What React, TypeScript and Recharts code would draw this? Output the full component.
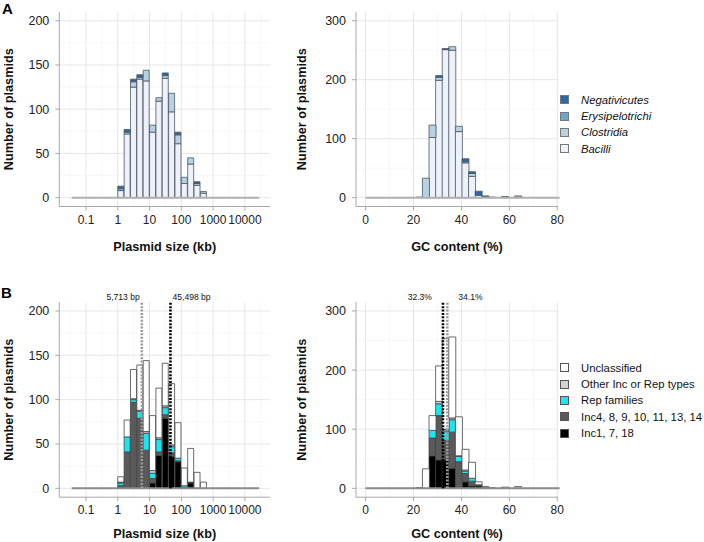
import React from 'react';
import { ComposedChart, Bar, XAxis, YAxis, CartesianGrid, ReferenceLine } from 'recharts';

const FONT = '"Liberation Sans", Arial, Helvetica, sans-serif';

// plasmid size histogram: bin centres in log10(kb), bins 0.2 wide
const sizeBins = [0.1, 0.3, 0.5, 0.7, 0.9, 1.1, 1.3, 1.5, 1.7, 1.9, 2.1, 2.3, 2.5, 2.7];
const sizeEmptyRange: [number, number] = [-1.45, 4.45];
const sizeTicks = [-1, 0, 1, 2, 3, 4];
const sizeTickLabels = ['0.1', '1', '10', '100', '1000', '10000'];
const sizeMinor = [-1.5, -0.5, 0.5, 1.5, 2.5, 3.5, 4.5];

const sizeBacilli = [8, 72, 125, 134, 132, 74, 109, 135, 97, 61, 16, 38, 14, 5];
const sizeClostridia = [2, 2, 6, 2, 12, 8, 4, 3, 21, 10, 7, 7, 2, 2];
const sizeErysipelotrichi = [0, 0, 1, 0, 0, 0, 0, 0, 0, 0, 0, 0, 0, 0];
const sizeNegativicutes = [3, 3, 2, 3, 0, 0, 0, 3, 0, 3, 0, 0, 2, 0];

const sizeInc1 = [1, 0, 0, 1, 0, 6, 37, 79, 36, 30, 1, 6, 0, 0];
const sizeInc4 = [2, 41, 97, 78, 43, 5, 4, 4, 4, 1, 0, 1, 0, 0];
const sizeRep = [3, 17, 3, 8, 19, 6, 14, 8, 7, 3, 2, 0, 0, 0];
const sizeOther = [1, 0, 1, 1, 2, 3, 2, 2, 2, 0, 0, 0, 0, 0];
const sizeUnclassified = [6, 19, 33, 51, 80, 62, 56, 48, 69, 40, 20, 38, 18, 7];

// GC content histogram: bin centres in %
const gcBins = [22.35, 25.1, 27.85, 30.6, 33.35, 36.1, 38.85, 41.6, 44.35, 47.1, 49.85, 52.6, 55.35, 58.1, 60.85, 63.6];
const gcEmptyRange: [number, number] = [0, 81];
const gcTicks = [0, 20, 40, 60, 80];
const gcMinor = [10, 30, 50, 70];

const gcBacilli = [1, 0, 102, 199, 251, 250, 112, 59, 36, 4, 1, 1, 0, 1, 0, 1];
const gcClostridia = [0, 33, 21, 5, 0, 6, 9, 2, 5, 0, 0, 0, 0, 1, 0, 2];
const gcErysipelotrichi = [0, 0, 0, 0, 0, 0, 0, 0, 0, 0, 0, 0, 0, 0, 0, 0];
const gcNegativicutes = [0, 0, 0, 3, 2, 0, 0, 5, 3, 7, 2, 0, 0, 0, 0, 0];

const gcInc1 = [1, 0, 55, 48, 48, 34, 0, 11, 4, 4, 1, 0, 0, 0, 0, 0];
const gcInc4 = [0, 0, 30, 75, 33, 61, 45, 14, 8, 1, 0, 0, 0, 0, 0, 0];
const gcRep = [0, 0, 13, 20, 16, 21, 9, 4, 5, 1, 0, 0, 0, 0, 0, 0];
const gcOther = [0, 0, 0, 4, 3, 3, 1, 2, 0, 0, 0, 0, 0, 0, 0, 0];
const gcUnclassified = [0, 33, 25, 60, 153, 137, 66, 35, 27, 5, 2, 1, 0, 2, 0, 3];

// medians
const sizeMedianBp = [5713, 45498];
const sizeMedianLabels = ['5,713 bp', '45,498 bp'];
const gcMedians = [32.3, 34.1];
const gcMedianLabels = ['32.3%', '34.1%'];

const taxaSeries = [
  { key: 'bac', name: 'Bacilli', fill: '#edf1fa' },
  { key: 'clo', name: 'Clostridia', fill: '#b7d1e1' },
  { key: 'ery', name: 'Erysipelotrichi', fill: '#6aa7d3' },
  { key: 'neg', name: 'Negativicutes', fill: '#2a69aa' },
];
const repSeries = [
  { key: 'inc1', name: 'Inc1, 7, 18', fill: '#000000' },
  { key: 'inc4', name: 'Inc4, 8, 9, 10, 11, 13, 14', fill: '#5a5a5a' },
  { key: 'rep', name: 'Rep families', fill: '#19e6ee' },
  { key: 'other', name: 'Other Inc or Rep types', fill: '#d2d2d2' },
  { key: 'unc', name: 'Unclassified', fill: '#ffffff' },
];

const sizeTaxa = sizeBins.map((x, i) => ({
  x, bac: sizeBacilli[i], clo: sizeClostridia[i], ery: sizeErysipelotrichi[i], neg: sizeNegativicutes[i],
}));
const gcTaxa = gcBins.map((x, i) => ({
  x, bac: gcBacilli[i], clo: gcClostridia[i], ery: gcErysipelotrichi[i], neg: gcNegativicutes[i],
}));
const sizeRepData = sizeBins.map((x, i) => ({
  x, inc1: sizeInc1[i], inc4: sizeInc4[i], rep: sizeRep[i], other: sizeOther[i], unc: sizeUnclassified[i],
}));
const gcRepData = gcBins.map((x, i) => ({
  x, inc1: gcInc1[i], inc4: gcInc4[i], rep: gcRep[i], other: gcOther[i], unc: gcUnclassified[i],
}));

const sizeMedianLines = sizeMedianBp.map((bp, i) => ({
  x: Math.log10(bp / 1000), label: sizeMedianLabels[i], color: i === 0 ? '#9a9a9a' : '#000000', side: i === 0 ? 'left' : 'right',
}));
const gcMedianLines = gcMedians.map((v, i) => ({
  x: v, label: gcMedianLabels[i], color: i === 0 ? '#000000' : '#9a9a9a', side: i === 0 ? 'left' : 'right',
}));

type Series = { key: string; name: string; fill: string };
type Median = { x: number; label: string; color: string; side: string };

function MedianLabel(props: any) {
  const { viewBox, text, side, gap } = props;
  if (!viewBox) return null;
  const left = side === 'left';
  return (
    <text
      x={left ? viewBox.x - gap : viewBox.x + gap}
      y={viewBox.y - 2}
      textAnchor={left ? 'end' : 'start'}
      fontSize={8.6}
      fontFamily={FONT}
      fill="#111"
    >
      {text}
    </text>
  );
}

interface PanelProps {
  left: number;
  top: number;
  width: number;
  height: number;
  data: Record<string, number>[];
  series: Series[];
  xDomain: [number, number];
  xTicks: number[];
  xMinor: number[];
  xFormat: (v: number) => string;
  xTitle: string;
  xTickMargin: number;
  xTitleOffset: number;
  yDomain: [number, number];
  yTicks: number[];
  yMinor: number[];
  yAxisWidth: number;
  yTitleOffset: number;
  marginTop: number;
  marginRight: number;
  emptyRange: [number, number];
  baseStroke: string;
  barStroke: string;
  medians?: Median[];
  labelGap?: number;
}

function HistPanel(p: PanelProps) {
  const axisColor = '#a8a8a8';
  return (
    <div style={{ position: 'absolute', left: p.left, top: p.top }}>
      <ComposedChart
        width={p.width}
        height={p.height}
        data={p.data}
        margin={{ top: p.marginTop, right: p.marginRight, bottom: 0, left: 0 }}
        barCategoryGap={0}
        barGap={0}
      >
        <CartesianGrid stroke="#f2f2f2" strokeWidth={0.6} horizontalValues={p.yMinor} verticalValues={p.xMinor} />
        <CartesianGrid stroke="#e3e3e3" strokeWidth={0.9} horizontalValues={p.yTicks} verticalValues={p.xTicks} />
        <XAxis
          dataKey="x"
          type="number"
          domain={p.xDomain}
          ticks={p.xTicks}
          interval={0}
          allowDataOverflow
          tickFormatter={p.xFormat}
          height={49.5}
          tickSize={4}
          tickMargin={p.xTickMargin}
          stroke={axisColor}
          tick={{ fontSize: 12, fill: '#222', fontFamily: FONT }}
          label={{ value: p.xTitle, position: 'insideBottom', offset: p.xTitleOffset, fontSize: 12.7, fontWeight: 'bold', fill: '#111', fontFamily: FONT }}
        />
        <YAxis
          type="number"
          domain={p.yDomain}
          ticks={p.yTicks}
          interval={0}
          allowDataOverflow
          width={p.yAxisWidth}
          tickSize={4}
          tickMargin={6}
          stroke={axisColor}
          tick={{ fontSize: 12.5, fill: '#222', fontFamily: FONT }}
          label={{
            value: 'Number of plasmids', angle: -90, position: 'insideLeft', offset: p.yTitleOffset,
            style: { textAnchor: 'middle' }, fontSize: 12.7, fontWeight: 'bold', fill: '#111', fontFamily: FONT,
          }}
        />
        <ReferenceLine
          segment={[{ x: p.emptyRange[0], y: 0 }, { x: p.emptyRange[1], y: 0 }]}
          stroke={p.baseStroke}
          strokeWidth={2}
          ifOverflow="visible"
        />
        {p.series.map(s => (
          <Bar
            key={s.key}
            dataKey={s.key}
            name={s.name}
            stackId="h"
            fill={s.fill}
            stroke={p.barStroke}
            strokeWidth={0.8}
            isAnimationActive={false}
          />
        ))}
        {(p.medians || []).map(m => (
          <ReferenceLine
            key={m.label}
            segment={[{ x: m.x, y: 0 }, { x: m.x, y: p.yDomain[1] }]}
            stroke={m.color}
            strokeWidth={2.6}
            strokeDasharray="2 1.4"
            ifOverflow="visible"
            label={<MedianLabel text={m.label} side={m.side} gap={p.labelGap || 2} />}
          />
        ))}
      </ComposedChart>
    </div>
  );
}

function LegendBox({ left, top, items, italic, fontSize, stroke }: {
  left: number; top: number; items: Series[]; italic: boolean; fontSize: number; stroke: string;
}) {
  return (
    <div style={{ position: 'absolute', left, top, fontFamily: FONT }}>
      {items.map(it => (
        <div key={it.key} style={{ display: 'flex', alignItems: 'center', height: 16.4 }}>
          <div style={{ width: 7, height: 7, background: it.fill, border: `0.8px solid ${stroke}`, marginRight: 12 }} />
          <span style={{ fontSize, fontStyle: italic ? 'italic' : 'normal', color: '#111', whiteSpace: 'nowrap' }}>{it.name}</span>
        </div>
      ))}
    </div>
  );
}

const sizeFormat = (v: number) => sizeTickLabels[sizeTicks.indexOf(v)] ?? String(v);
const gcFormat = (v: number) => String(v);

export default function App() {
  return (
    <div style={{ position: 'absolute', left: 0, top: 0, width: 704, height: 542, background: '#fff', overflow: 'hidden', fontFamily: FONT }}>
      <div style={{ position: 'absolute', left: 2, top: 0, fontSize: 15, fontWeight: 'bold' }}>A</div>
      <div style={{ position: 'absolute', left: 1, top: 284, fontSize: 15, fontWeight: 'bold' }}>B</div>

      <HistPanel
        left={0} top={0} width={280} height={256}
        data={sizeTaxa} series={taxaSeries}
        xDomain={[-1.84, 4.79]} xTicks={sizeTicks} xMinor={sizeMinor} xFormat={sizeFormat} xTitle="Plasmid size (kb)"
        xTickMargin={5} xTitleOffset={5.5}
        yDomain={[-10, 210]} yTicks={[0, 50, 100, 150, 200]} yMinor={[25, 75, 125, 175]}
        yAxisWidth={59.3} yTitleOffset={8} marginTop={11.9} marginRight={10}
        emptyRange={sizeEmptyRange} baseStroke="#b0b0b0" barStroke="#4e5660"
      />
      <HistPanel
        left={290} top={0} width={280} height={256}
        data={gcTaxa} series={taxaSeries}
        xDomain={[-4, 80.3]} xTicks={gcTicks} xMinor={gcMinor} xFormat={gcFormat} xTitle="GC content (%)"
        xTickMargin={5} xTitleOffset={5.5}
        yDomain={[-15, 315]} yTicks={[0, 100, 200, 300]} yMinor={[50, 150, 250]}
        yAxisWidth={66} yTitleOffset={11.7} marginTop={11.9} marginRight={12}
        emptyRange={gcEmptyRange} baseStroke="#b0b0b0" barStroke="#4e5660"
      />
      <LegendBox left={560} top={91.5} items={[...taxaSeries].reverse()} italic fontSize={11.3} stroke="#777" />

      <HistPanel
        left={0} top={290} width={280} height={256.7}
        data={sizeRepData} series={repSeries}
        xDomain={[-1.84, 4.79]} xTicks={sizeTicks} xMinor={sizeMinor} xFormat={sizeFormat} xTitle="Plasmid size (kb)"
        xTickMargin={4} xTitleOffset={8.4}
        yDomain={[-10, 210]} yTicks={[0, 50, 100, 150, 200]} yMinor={[25, 75, 125, 175]}
        yAxisWidth={59.3} yTitleOffset={8} marginTop={12.1} marginRight={10}
        emptyRange={sizeEmptyRange} baseStroke="#8a8a8a" barStroke="#444"
        medians={sizeMedianLines} labelGap={2}
      />
      <HistPanel
        left={290} top={290} width={280} height={256.7}
        data={gcRepData} series={repSeries}
        xDomain={[-4, 80.3]} xTicks={gcTicks} xMinor={gcMinor} xFormat={gcFormat} xTitle="GC content (%)"
        xTickMargin={4} xTitleOffset={8.4}
        yDomain={[-15, 315]} yTicks={[0, 100, 200, 300]} yMinor={[50, 150, 250]}
        yAxisWidth={66} yTitleOffset={11.7} marginTop={12.1} marginRight={12}
        emptyRange={gcEmptyRange} baseStroke="#8a8a8a" barStroke="#444"
        medians={gcMedianLines} labelGap={11}
      />
      <LegendBox left={560} top={359.5} items={[...repSeries].reverse()} italic={false} fontSize={11.3} stroke="#555" />
    </div>
  );
}
